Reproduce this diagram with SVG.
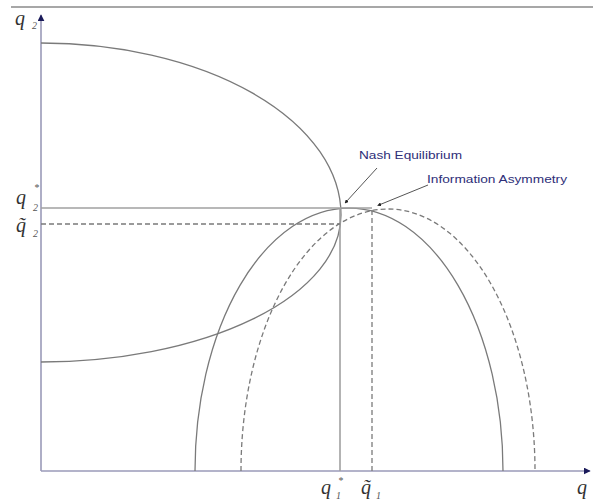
<svg xmlns="http://www.w3.org/2000/svg" width="593" height="504" viewBox="0 0 593 504">
<defs>
<marker id="ah" viewBox="0 0 10 10" refX="9" refY="5" markerWidth="7" markerHeight="7" orient="auto" markerUnits="userSpaceOnUse">
<path d="M0,0 L10,5 L0,10 z" fill="#1a1a5a"/>
</marker>
<marker id="dot" viewBox="0 0 6 6" refX="3" refY="3" markerWidth="4" markerHeight="4" orient="auto" markerUnits="userSpaceOnUse">
<path d="M0,0 L6,3 L0,6 z" fill="#222"/>
</marker>
<style>
.axis{stroke:#9a9ab8;stroke-width:1.6;fill:none}
.curve{stroke:#7a7a7a;stroke-width:1.3;fill:none}
.dash{stroke:#7a7a7a;stroke-width:1.3;fill:none;stroke-dasharray:5,3}
.guide{stroke:#a0a0a0;stroke-width:1.6;fill:none}
.lead{stroke:#555;stroke-width:1;fill:none}
.q{font-family:"Liberation Serif",serif;font-style:italic;font-size:20px;fill:#333}
.sub{font-family:"Liberation Serif",serif;font-style:italic;font-size:10px;fill:#555}
.lbl{font-family:"Liberation Sans",Arial,sans-serif;font-size:11px;fill:#2e2e78}
</style>
</defs>
<rect width="593" height="504" fill="#fff"/>
<line x1="11" y1="7" x2="593" y2="7" stroke="#8a8a8a" stroke-width="1.5"/>
<g id="axes">
<line class="axis" x1="41" y1="471" x2="41" y2="15" marker-end="url(#ah)"/>
<line class="axis" x1="41" y1="471" x2="590" y2="471" marker-end="url(#ah)"/>
</g>
<g id="curves">
<path class="curve" d="M41,43 A300,172 0 0 1 341,215"/>
<path class="curve" d="M41,362 A300,147 0 0 0 341,215"/>
<path class="curve" d="M195,471 A154,263 0 0 1 503,471"/>
<path class="dash" d="M241,471 A147,262 0 0 1 535,471"/>
<line class="guide" x1="41" y1="208" x2="372" y2="208"/>
<line class="guide" x1="340" y1="208" x2="340" y2="471"/>
<line class="dash" x1="41" y1="224" x2="340" y2="224"/>
<line class="dash" x1="372" y1="210" x2="372" y2="471"/>
</g>
<g id="connectors">
<line class="lead" x1="377" y1="168" x2="346" y2="202" marker-end="url(#dot)"/>
<line class="lead" x1="428" y1="185" x2="379" y2="205" marker-end="url(#dot)"/>
</g>
<g id="nash-label"><text class="lbl" x="359" y="159" textLength="103" lengthAdjust="spacingAndGlyphs">Nash Equilibrium</text></g>
<g id="info-label"><text class="lbl" x="427" y="183" textLength="140" lengthAdjust="spacingAndGlyphs">Information Asymmetry</text></g>
<g id="y-labels">
<text class="q" x="15" y="25">q</text><text class="sub" x="32" y="29">2</text>
<text class="q" x="16" y="204">q</text><text class="sub" x="33" y="211">2</text><text class="sub" x="34" y="191">*</text>
<text class="q" x="16" y="232">q&#x303;</text><text class="sub" x="33" y="237">2</text>
</g>
<g id="x-labels">
<text class="q" x="321" y="494">q</text><text class="sub" x="336" y="499">1</text><text class="sub" x="338" y="484">*</text>
<text class="q" x="361" y="494">q&#x303;</text><text class="sub" x="376" y="499">1</text>
<text class="q" x="577" y="494">q</text>
</g>
</svg>
